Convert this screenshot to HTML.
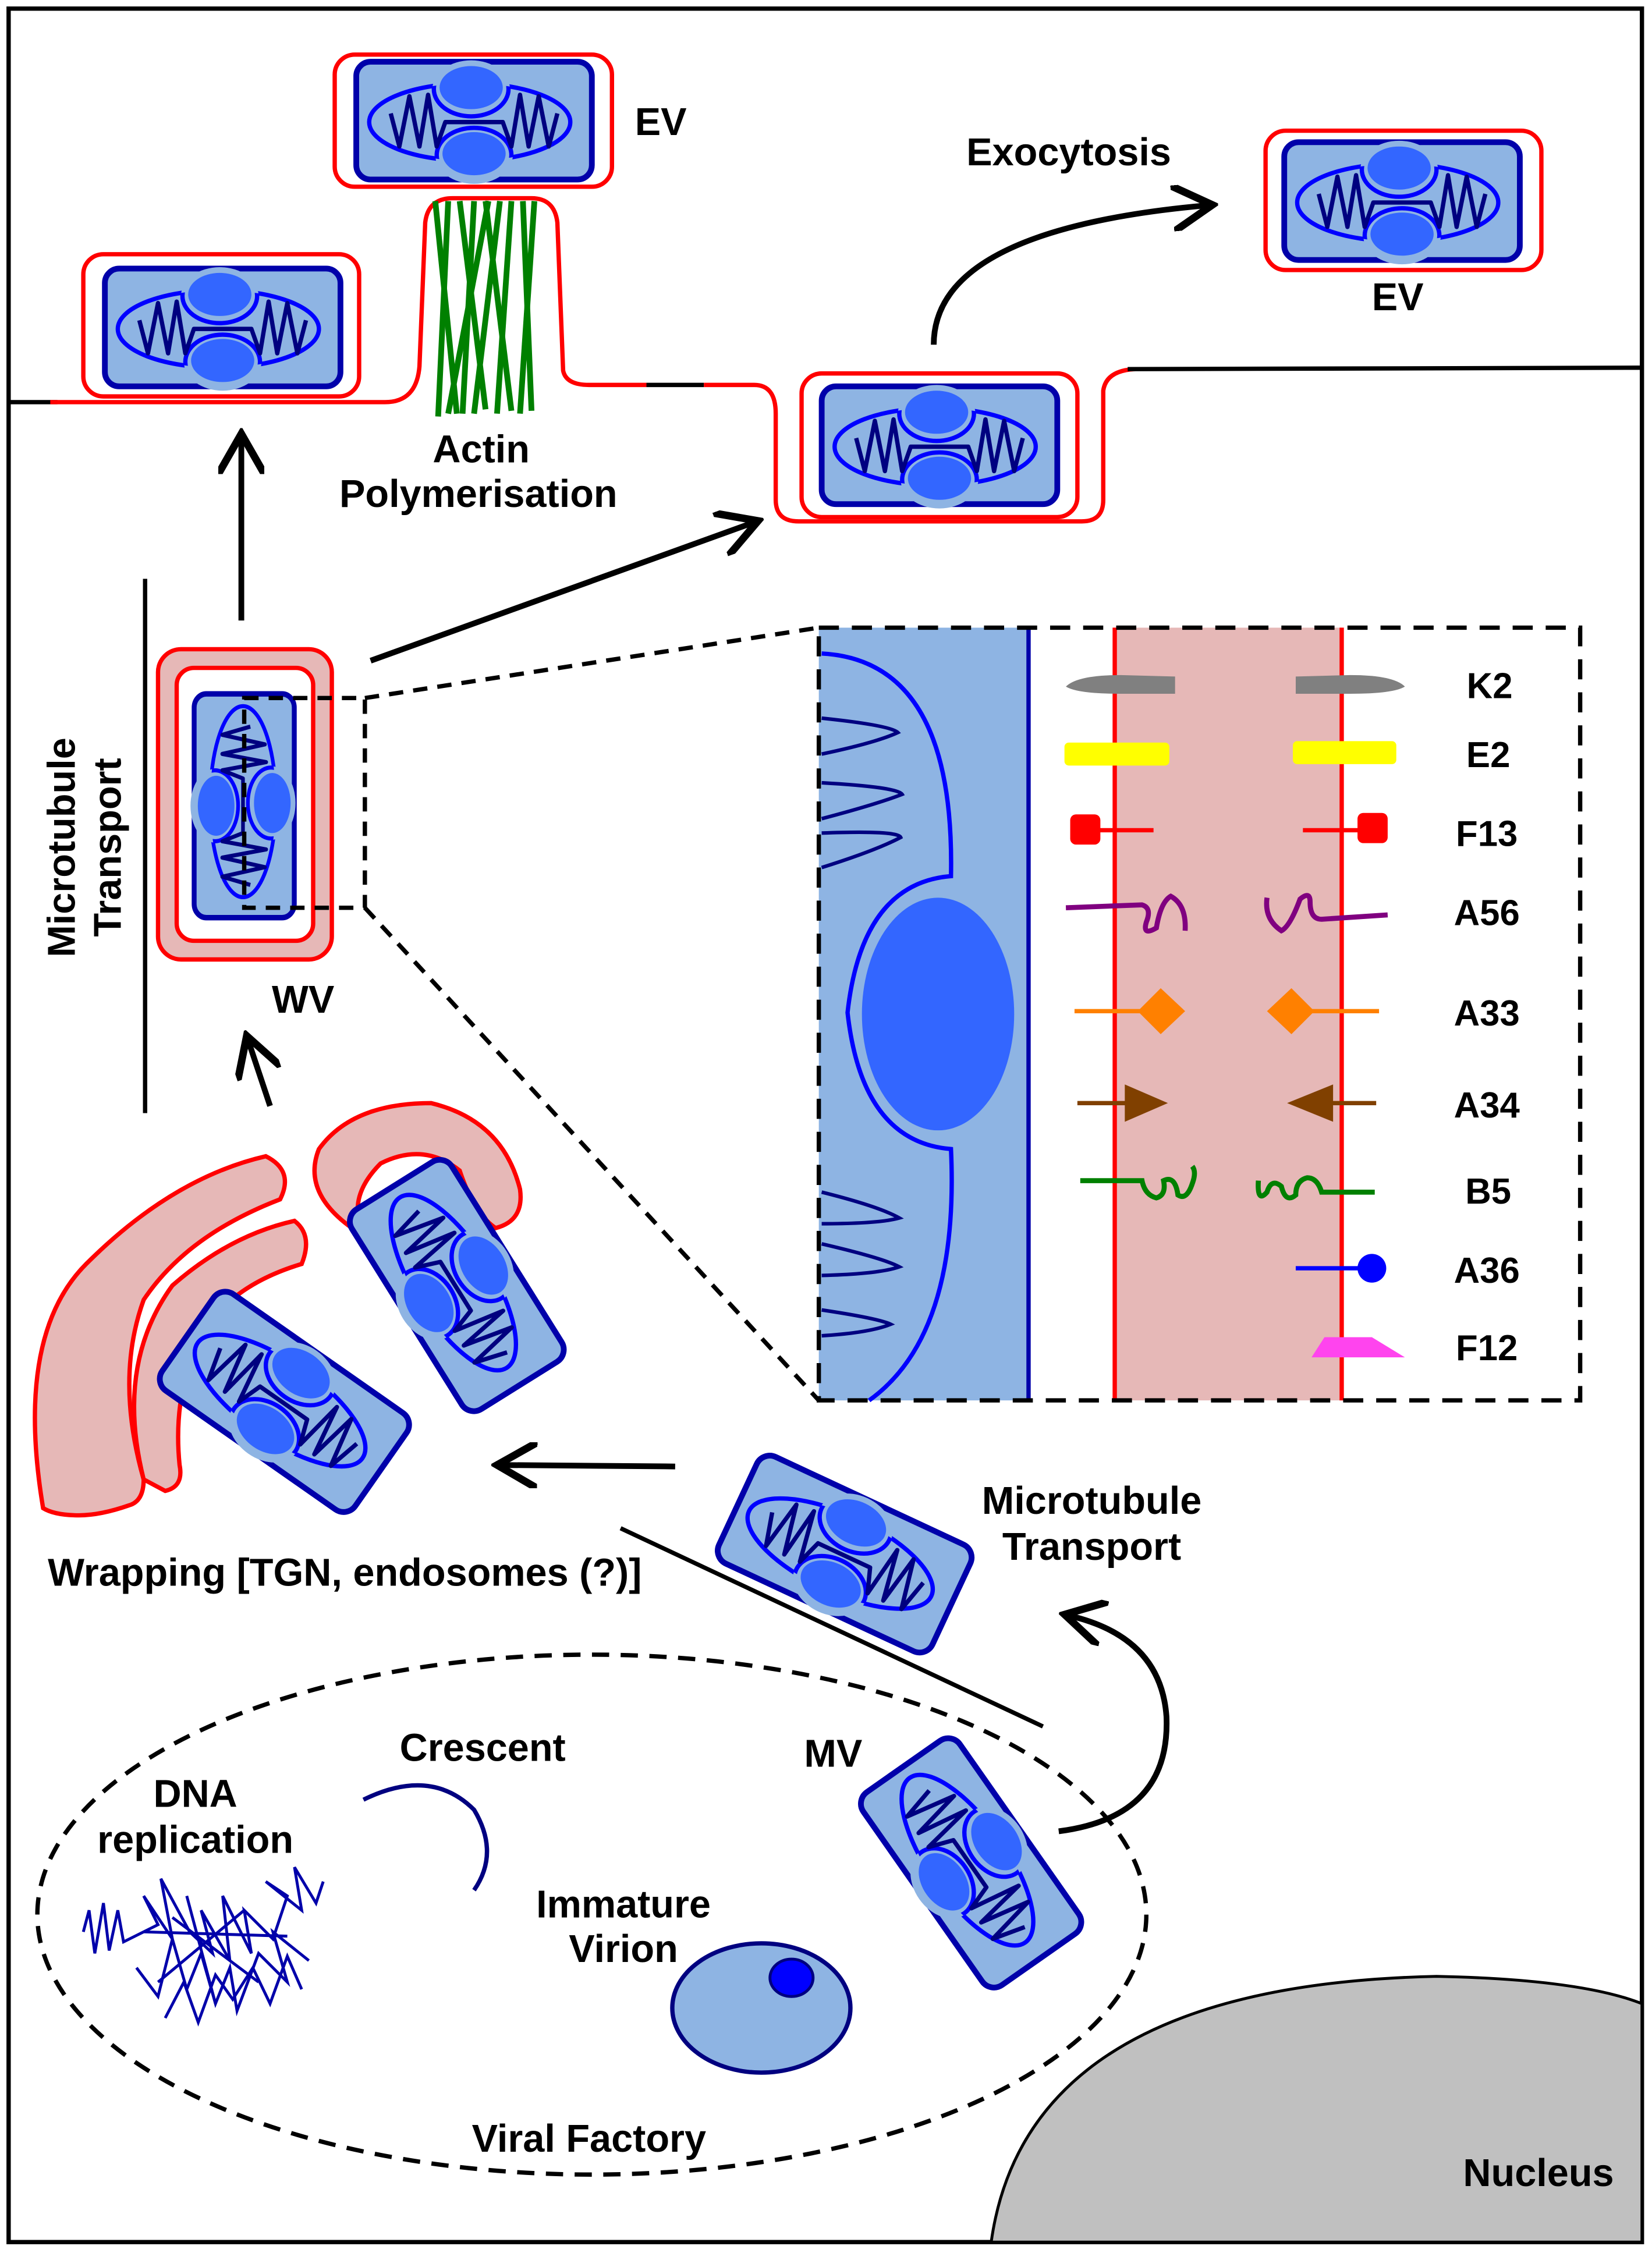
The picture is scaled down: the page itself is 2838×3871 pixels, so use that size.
<!DOCTYPE html>
<html><head><meta charset="utf-8"><style>
html,body{margin:0;padding:0;background:#fff;}
svg{display:block;}
text{font-family:"Liberation Sans",Arial,sans-serif;font-weight:bold;fill:#000;}
</style></head><body>
<svg width="2838" height="3871" viewBox="0 0 1150 1568.6" xmlns="http://www.w3.org/2000/svg">
<defs>
<marker id="ah" markerWidth="8" markerHeight="8" refX="6" refY="4" orient="auto" markerUnits="strokeWidth">
<path d="M0,0 L7,4 L0,8" fill="none" stroke="#000" stroke-width="1.3"/>
</marker>
<clipPath id="gc"><ellipse cx="-3" cy="1" rx="70" ry="27"/></clipPath>
<g id="mv">
<rect x="-82" y="-41" width="164" height="82" rx="10" fill="#8eb4e3" stroke="#0000aa" stroke-width="4"/>
<ellipse cx="-3" cy="1" rx="70" ry="27" fill="none" stroke="#0000ff" stroke-width="3"/>
<ellipse cx="-2" cy="-22" rx="27" ry="20" fill="#8eb4e3"/>
<ellipse cx="0" cy="24" rx="27" ry="20" fill="#8eb4e3"/>
<g clip-path="url(#gc)">
<ellipse cx="-2" cy="-22" rx="26" ry="19" fill="none" stroke="#0000ff" stroke-width="3"/>
<ellipse cx="0" cy="24" rx="26" ry="19" fill="none" stroke="#0000ff" stroke-width="3"/>
</g>
<path d="M-58,-5 L-52,18 L-45,-17 L-38,18 L-32,-18 L-26,18 L-20,1 L20,1 L26,18 L32,-18 L38,18 L45,-17 L52,18 L58,-5" fill="none" stroke="#000080" stroke-width="3" stroke-linejoin="round"/>
<ellipse cx="-2" cy="-23" rx="22" ry="15" fill="#3366ff"/>
<ellipse cx="0" cy="23" rx="22" ry="15" fill="#3366ff"/>
</g>
</defs>
<rect x="6" y="6" width="1137" height="1555" fill="#fff" stroke="#000" stroke-width="3"/>

<!-- nucleus -->
<path d="M690,1561 Q715,1382 1000,1376 Q1100,1378 1143,1395 L1143,1561 Z" fill="#c0c0c0" stroke="#000" stroke-width="2"/>
<text x="1071" y="1522" font-size="27" text-anchor="middle">Nucleus</text>

<!-- membrane -->
<path d="M6,280 L40,280" stroke="#000" stroke-width="3" fill="none"/>
<path d="M35,280 L268,280 Q290,280 292,255 L296,155 Q298,138 315,138 L370,138 Q386,138 388,155 L392,258 Q394,268 410,268 L450,268" stroke="#ff0000" stroke-width="3" fill="none"/>
<path d="M450,268 L490,268" stroke="#000" stroke-width="3"/>
<path d="M490,268 L525,268 Q540,268 540,288 L540,348 Q540,363 556,363 L753,363 Q768,363 768,348 L768,272 Q770,258 790,257" stroke="#ff0000" stroke-width="3" fill="none"/>
<path d="M785,257 L1143,256" stroke="#000" stroke-width="3"/>

<!-- actin -->
<g stroke="#008000" stroke-width="4">
<line x1="303" y1="140" x2="318" y2="288"/><line x1="312" y1="140" x2="305" y2="290"/>
<line x1="320" y1="140" x2="338" y2="285"/><line x1="330" y1="140" x2="322" y2="288"/>
<line x1="338" y1="140" x2="356" y2="286"/><line x1="348" y1="140" x2="330" y2="288"/>
<line x1="356" y1="140" x2="346" y2="288"/><line x1="364" y1="140" x2="370" y2="286"/>
<line x1="372" y1="140" x2="362" y2="288"/><line x1="340" y1="140" x2="312" y2="288"/>
</g>

<!-- EVs -->
<rect x="233" y="38" width="193" height="92" rx="14" fill="#fff" stroke="#ff0000" stroke-width="3"/>
<use href="#mv" transform="translate(330,84)"/>
<rect x="58" y="177" width="192" height="99" rx="14" fill="#fff" stroke="#ff0000" stroke-width="3"/>
<use href="#mv" transform="translate(155,228)"/>
<rect x="881" y="91" width="192" height="97" rx="14" fill="#fff" stroke="#ff0000" stroke-width="3"/>
<use href="#mv" transform="translate(976,140)"/>
<rect x="558" y="260" width="192" height="100" rx="14" fill="#fff" stroke="#ff0000" stroke-width="3"/>
<use href="#mv" transform="translate(654,310)"/>

<text x="460" y="94" font-size="27" text-anchor="middle">EV</text>
<text x="973" y="216" font-size="27" text-anchor="middle">EV</text>
<text x="744" y="115" font-size="27" text-anchor="middle">Exocytosis</text>
<text x="335" y="322" font-size="27" text-anchor="middle">Actin</text>
<text x="333" y="353" font-size="27" text-anchor="middle">Polymerisation</text>

<path d="M650,240 Q650,160 840,143" fill="none" stroke="#000" stroke-width="4" marker-end="url(#ah)"/>
<line x1="168" y1="432" x2="168" y2="306" stroke="#000" stroke-width="4" marker-end="url(#ah)"/>
<line x1="258" y1="460" x2="524" y2="364" stroke="#000" stroke-width="4" marker-end="url(#ah)"/>

<!-- WV -->
<line x1="101" y1="403" x2="101" y2="775" stroke="#000" stroke-width="3"/>
<text transform="translate(52,590) rotate(-90)" font-size="27" text-anchor="middle">Microtubule</text>
<text transform="translate(84,590) rotate(-90)" font-size="27" text-anchor="middle">Transport</text>
<rect x="110" y="452" width="121" height="216" rx="16" fill="#e6b8b7" stroke="#ff0000" stroke-width="3"/>
<rect x="123" y="465" width="95" height="190" rx="12" fill="#fff" stroke="#ff0000" stroke-width="3"/>
<use href="#mv" transform="translate(170,561) rotate(90) scale(0.95,0.85)"/>
<rect x="170" y="486" width="84" height="146" fill="none" stroke="#000" stroke-width="3" stroke-dasharray="10,7"/>
<line x1="254" y1="486" x2="570" y2="437" stroke="#000" stroke-width="3" stroke-dasharray="10,7"/>
<line x1="254" y1="632" x2="570" y2="975" stroke="#000" stroke-width="3" stroke-dasharray="10,7"/>
<text x="211" y="705" font-size="27" text-anchor="middle">WV</text>
<line x1="188" y1="770" x2="173" y2="725" stroke="#000" stroke-width="4" marker-end="url(#ah)"/>

<!-- inset -->
<rect x="570" y="437" width="146" height="538" fill="#8eb4e3"/>
<rect x="776" y="437" width="158" height="538" fill="#e6b8b7"/>
<path d="M572,455 Q665,460 662,610 Q600,615 590,705 Q600,795 662,800 Q668,930 605,975" fill="none" stroke="#0000ff" stroke-width="3"/>
<ellipse cx="653" cy="706" rx="53" ry="81" fill="#3366ff"/>
<g fill="none" stroke="#000080" stroke-width="2.5">
<path d="M572,500 Q620,505 625,510 Q610,517 572,525"/>
<path d="M572,545 Q625,548 628,553 Q610,560 572,570"/>
<path d="M572,580 Q625,578 627,583 Q610,592 572,604"/>
<path d="M572,830 Q612,840 626,848 Q612,852 572,852"/>
<path d="M572,866 Q615,876 626,882 Q612,887 572,888"/>
<path d="M572,912 Q612,918 620,922 Q605,928 572,930"/>
</g>
<line x1="716" y1="437" x2="716" y2="975" stroke="#0000aa" stroke-width="3"/>
<line x1="776" y1="437" x2="776" y2="975" stroke="#ff0000" stroke-width="3"/>
<line x1="934" y1="437" x2="934" y2="975" stroke="#ff0000" stroke-width="3"/>
<rect x="570" y="437" width="530" height="538" fill="none" stroke="#000" stroke-width="3" stroke-dasharray="14,9"/>
<!-- proteins -->
<path d="M742,478 Q750,470 780,470 L818,471 L818,483 L780,483 Q750,483 742,478Z" fill="#808080"/>
<path d="M978,478 Q970,470 940,470 L902,471 L902,483 L940,483 Q970,483 978,478Z" fill="#808080"/>
<rect x="741" y="517" width="73" height="16" rx="3" fill="#ffff00"/>
<rect x="900" y="516" width="72" height="16" rx="3" fill="#ffff00"/>
<line x1="756" y1="578" x2="803" y2="578" stroke="#ff0000" stroke-width="3"/><rect x="745" y="567" width="21" height="21" rx="4" fill="#ff0000"/>
<line x1="907" y1="578" x2="955" y2="578" stroke="#ff0000" stroke-width="3"/><rect x="945" y="566" width="21" height="21" rx="4" fill="#ff0000"/>
<path d="M742,632 L795,630 Q802,632 798,642 Q795,652 805,646 Q808,628 815,624 Q826,630 825,648" fill="none" stroke="#800080" stroke-width="3.5"/>
<path d="M966,637 L920,640 Q912,640 912,628 Q912,620 905,626 Q898,645 892,648 Q880,640 882,625" fill="none" stroke="#800080" stroke-width="3.5"/>
<line x1="748" y1="704" x2="810" y2="704" stroke="#ff8000" stroke-width="3"/><path d="M808,688 L825,704 L808,720 L792,704Z" fill="#ff8000"/>
<line x1="960" y1="704" x2="900" y2="704" stroke="#ff8000" stroke-width="3"/><path d="M899,688 L915,704 L899,720 L882,704Z" fill="#ff8000"/>
<line x1="750" y1="768" x2="790" y2="768" stroke="#804000" stroke-width="3"/><path d="M783,755 L813,768 L783,781Z" fill="#804000"/>
<line x1="958" y1="768" x2="925" y2="768" stroke="#804000" stroke-width="3"/><path d="M928,755 L896,768 L928,781Z" fill="#804000"/>
<path d="M752,822 L795,822 Q797,832 805,834 Q812,832 810,822 Q818,818 820,832 Q826,836 830,824 Q833,816 830,812" fill="none" stroke="#008000" stroke-width="3.5"/>
<path d="M957,830 L920,830 Q917,820 910,820 Q902,822 902,832 Q895,838 892,826 Q885,820 882,830 Q875,838 876,822" fill="none" stroke="#008000" stroke-width="3.5"/>
<line x1="902" y1="883" x2="950" y2="883" stroke="#0000ff" stroke-width="3"/><circle cx="955" cy="883" r="10" fill="#0000ff"/>
<path d="M913,945 L922,931 L955,931 L978,945Z" fill="#ff44ee"/>
<g font-size="25" text-anchor="middle">
<text x="1037" y="486">K2</text><text x="1036" y="534">E2</text><text x="1035" y="589">F13</text>
<text x="1035" y="644">A56</text><text x="1035" y="714">A33</text><text x="1035" y="778">A34</text>
<text x="1036" y="838">B5</text><text x="1035" y="893">A36</text><text x="1035" y="947">F12</text>
</g>

<!-- wrapping -->
<path d="M30,1050 Q10,930 60,880 Q120,820 185,805 Q205,815 195,835 Q130,860 100,905 Q80,960 100,1030 Q100,1045 90,1048 Q70,1055 55,1055 Q38,1055 30,1050Z" fill="#e6b8b7" stroke="#ff0000" stroke-width="3"/>
<path d="M100,1030 Q80,950 120,895 Q160,860 205,850 Q218,860 210,880 Q160,895 140,930 Q120,970 125,1020 Q128,1035 115,1038 Z" fill="#e6b8b7" stroke="#ff0000" stroke-width="3"/>
<path d="M245,855 Q210,830 222,800 Q245,768 300,768 Q350,780 362,828 Q365,850 345,855 Q330,845 320,815 Q295,795 265,810 Q245,830 250,850 Z" fill="#e6b8b7" stroke="#ff0000" stroke-width="3"/>
<use href="#mv" transform="translate(198,976) rotate(35)"/>
<use href="#mv" transform="translate(318,895) rotate(58)"/>
<text x="240" y="1104" font-size="27" text-anchor="middle">Wrapping [TGN, endosomes (?)]</text>
<line x1="470" y1="1021" x2="350" y2="1020" stroke="#000" stroke-width="4" marker-end="url(#ah)"/>

<!-- microtubule transport lower -->
<line x1="432" y1="1064" x2="726" y2="1202" stroke="#000" stroke-width="3"/>
<use href="#mv" transform="translate(588,1082) rotate(25)"/>
<text x="760" y="1054" font-size="27" text-anchor="middle">Microtubule</text>
<text x="760" y="1086" font-size="27" text-anchor="middle">Transport</text>
<path d="M737,1275 Q815,1265 812,1195 Q808,1140 745,1125" fill="none" stroke="#000" stroke-width="4" marker-end="url(#ah)"/>

<!-- viral factory -->
<ellipse cx="412" cy="1333" rx="386" ry="181" fill="none" stroke="#000" stroke-width="3" stroke-dasharray="12,8"/>
<use href="#mv" transform="translate(676,1297) rotate(55)"/>
<text x="580" y="1230" font-size="27" text-anchor="middle">MV</text>
<text x="136" y="1258" font-size="27" text-anchor="middle">DNA</text>
<text x="136" y="1290" font-size="27" text-anchor="middle">replication</text>
<text x="336" y="1226" font-size="27" text-anchor="middle">Crescent</text>
<path d="M253,1253 Q300,1230 330,1260 Q348,1290 330,1316" fill="none" stroke="#000080" stroke-width="3"/>
<text x="434" y="1335" font-size="27" text-anchor="middle">Immature</text>
<text x="434" y="1366" font-size="27" text-anchor="middle">Virion</text>
<ellipse cx="530" cy="1398" rx="62" ry="45" fill="#8eb4e3" stroke="#000080" stroke-width="3"/>
<ellipse cx="551" cy="1377" rx="15" ry="13" fill="#0000ff" stroke="#000080" stroke-width="2"/>
<text x="410" y="1498" font-size="27" text-anchor="middle">Viral Factory</text>
<g fill="none" stroke="#0000aa" stroke-width="2">
<path d="M58,1345 L62,1330 L66,1360 L72,1325 L76,1358 L82,1330 L86,1352 L110,1340 L100,1320 L120,1350 L112,1308 L132,1345 L148,1360 L140,1330 L160,1365 L155,1320 L175,1360 L170,1330 L190,1350 L200,1320 L185,1310 L210,1330 L205,1300 L220,1325 L225,1310"/>
<path d="M95,1370 L110,1390 L120,1350 L130,1385 L140,1360 L150,1395 L160,1370 L165,1400 L180,1360 L200,1380 L190,1345 L215,1365"/>
<path d="M115,1405 L128,1380 L138,1408 L150,1375 L162,1392 L176,1370 L188,1395 L200,1362 L210,1385"/>
<path d="M100,1345 L200,1348 M120,1335 L180,1380 M110,1380 L170,1330 M130,1320 L150,1395"/>
</g>
</svg>
</body></html>
